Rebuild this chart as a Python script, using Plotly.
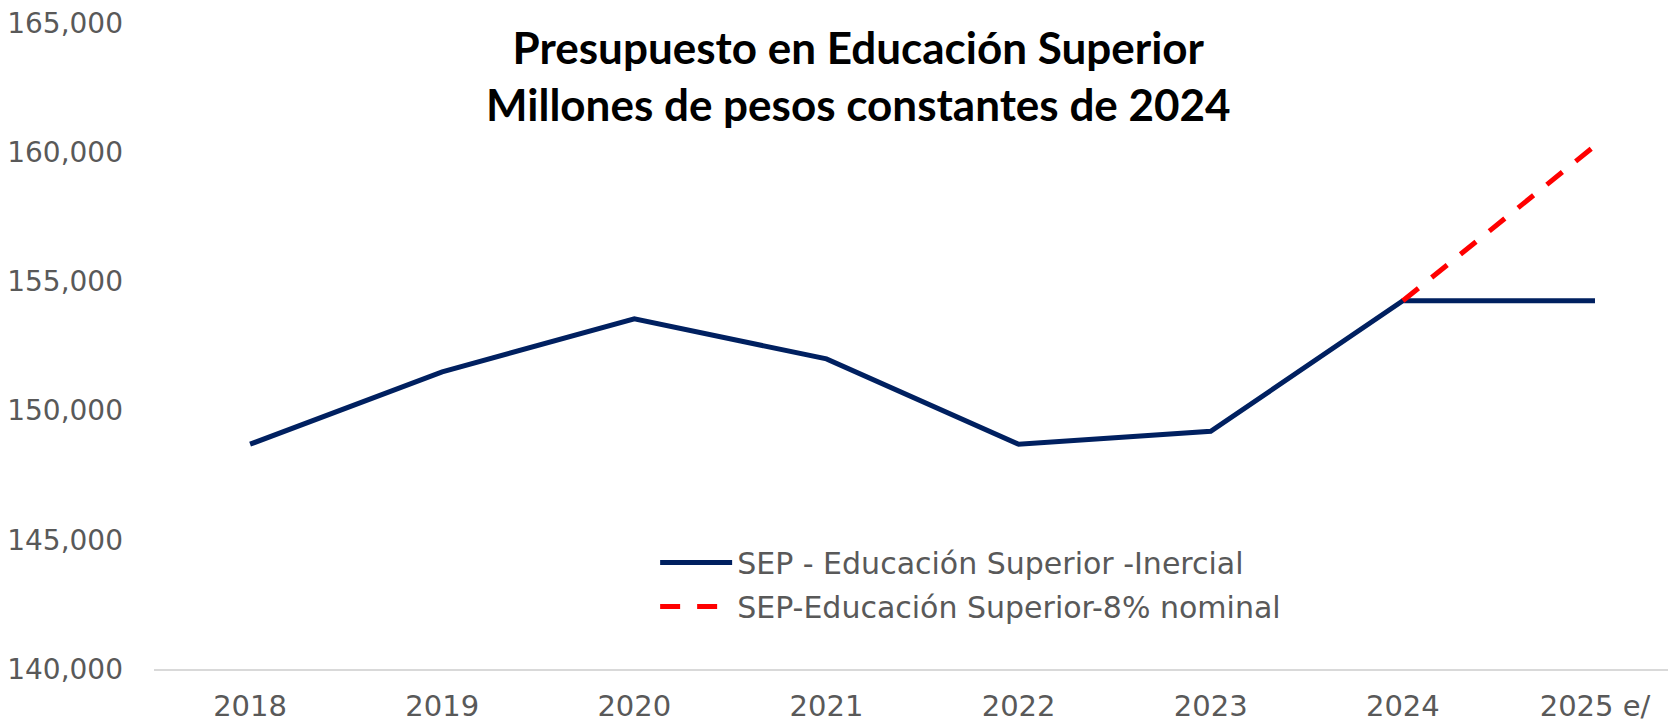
import plotly.graph_objects as go

categories = ["2018", "2019", "2020", "2021", "2022", "2023", "2024", "2025 e/"]
inercial = [148700, 151500, 153550, 152000, 148700, 149200, 154250, 154250]
nominal8_cats = ["2024", "2025 e/"]
nominal8 = [154250, 160250]
y_ticks = [140000, 145000, 150000, 155000, 160000, 165000]
y_tick_text = ["140,000", "145,000", "150,000", "155,000", "160,000", "165,000"]

fig = go.Figure()
fig.add_trace(go.Scatter(
    x=categories, y=inercial, mode="lines",
    name="SEP - Educación Superior -Inercial", legendgroup="a",
    line=dict(color="#002060", width=5),
))
fig.add_trace(go.Scatter(
    x=nominal8_cats, y=nominal8, mode="lines",
    name="SEP-Educación Superior-8% nominal", legendgroup="b",
    line=dict(color="#FF0000", width=5, dash="20px,17px"),
))

fig.update_layout(
    width=1668, height=722,
    margin=dict(l=154, r=0, t=23, b=53, autoexpand=False),
    paper_bgcolor="white", plot_bgcolor="white",
    font=dict(family="DejaVu Sans, sans-serif", color="#595959", size=28),
    annotations=[dict(
        text="<b>Presupuesto en Educación Superior<br>Millones de pesos constantes de 2024</b>",
        xref="paper", yref="paper", x=0.465, y=0.918,
        xanchor="center", yanchor="middle", showarrow=False,
        font=dict(family="Lato, sans-serif", size=44, color="black"),
    )],
    showlegend=True,
    legend=dict(
        x=0.331, y=0.205, xanchor="left", yanchor="top",
        font=dict(family="DejaVu Sans, sans-serif", size=30, color="#595959"),
        bgcolor="rgba(0,0,0,0)", itemwidth=72,
        traceorder="grouped", tracegroupgap=2,
    ),
    xaxis=dict(
        type="category", categoryorder="array", categoryarray=categories,
        range=[-0.5, 7.38], showgrid=False, zeroline=False,
        showline=True, linecolor="#D9D9D9", linewidth=2,
        ticks="", ticklabelstandoff=10, automargin=False,
        tickfont=dict(size=29, color="#595959"),
    ),
    yaxis=dict(
        range=[140000, 165000], tickvals=y_ticks, ticktext=y_tick_text,
        showgrid=False, zeroline=False, showline=False, ticks="",
        ticklabelstandoff=30, automargin=False,
        tickfont=dict(size=28, color="#595959"),
    ),
)

fig.write_html("out.html", config={"displayModeBar": False},
               post_script="document.body.style.margin='0px';")
